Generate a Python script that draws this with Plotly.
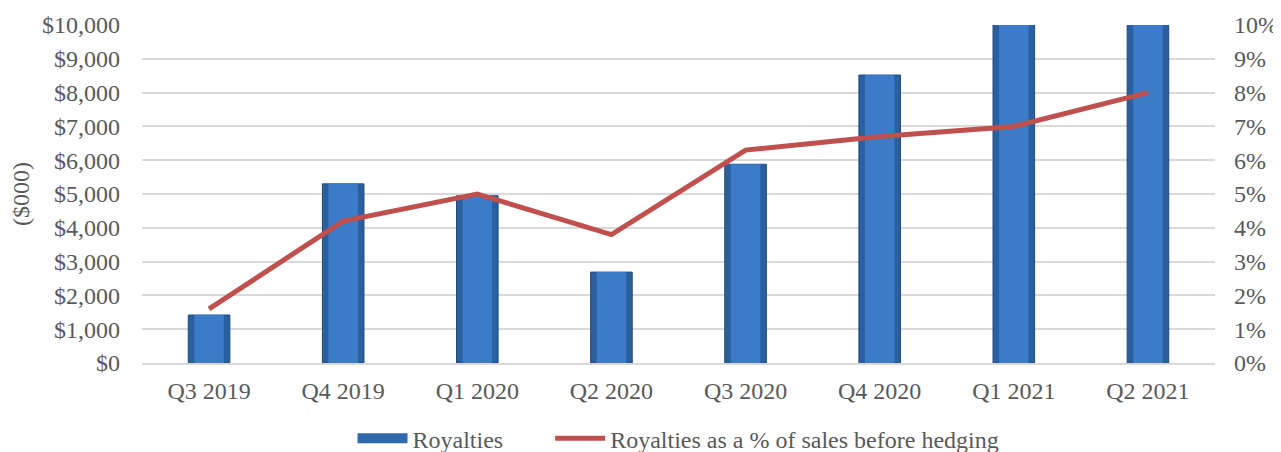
import plotly.graph_objects as go

# -----------------------------
# Data
# -----------------------------
quarters = ["Q3 2019", "Q4 2019", "Q1 2020", "Q2 2020",
            "Q3 2020", "Q4 2020", "Q1 2021", "Q2 2021"]
royalties = [1420, 5300, 4950, 2690, 5880, 8520, 11500, 11500]
royalty_pct = [1.6, 4.2, 5.0, 3.8, 6.3, 6.7, 7.0, 8.0]

left_ticks = [0, 1000, 2000, 3000, 4000, 5000, 6000, 7000, 8000, 9000, 10000]
left_labels = ["$" + format(v, ",") for v in left_ticks]
right_ticks = list(range(0, 11))
right_labels = [f"{v}%" for v in right_ticks]

FONT = "Liberation Serif, Times New Roman, serif"
GREY = "#595959"
SIZE = 24

fig = go.Figure()

# -----------------------------
# Bars: dark outer + lighter inner to fake the bevel
# -----------------------------
fig.add_trace(
    go.Bar(
        x=quarters,
        y=royalties,
        name="Royalties",
        width=0.31,
        marker=dict(color="#2C5F9E", line=dict(color="#1F4A7D", width=1)),
        showlegend=False,
    )
)
fig.add_trace(
    go.Bar(
        x=quarters,
        y=royalties,
        name="Royalties",
        width=0.22,
        marker=dict(color="#3B7BC8", line=dict(width=0)),
        showlegend=False,
        hoverinfo="skip",
    )
)

# legend-only entry so the swatch is a wide rectangle like the original
fig.add_trace(
    go.Scatter(
        x=[None],
        y=[None],
        name="Royalties" + "\u00a0" * 7,
        mode="lines",
        line=dict(color="#2F68AD", width=12),
    )
)

# -----------------------------
# Line on secondary axis
# -----------------------------
fig.add_trace(
    go.Scatter(
        x=quarters,
        y=royalty_pct,
        name="Royalties as a % of sales before hedging",
        mode="lines",
        line=dict(color="#C0504D", width=5),
        yaxis="y2",
    )
)

# page body has an 8px margin, so the figure is 8px smaller
fig.update_layout(
    width=1273,
    height=444,
    barmode="overlay",
    plot_bgcolor="white",
    paper_bgcolor="white",
    margin=dict(l=134, r=66, t=17, b=89, autoexpand=False),
    font=dict(family=FONT, size=SIZE, color=GREY),
    xaxis=dict(
        showgrid=False,
        showline=True,
        linecolor="#D9D9D9",
        linewidth=2,
        ticklabelstandoff=5,
        tickfont=dict(size=SIZE, color=GREY),
    ),
    yaxis=dict(
        range=[0, 10000],
        tickvals=left_ticks,
        ticktext=left_labels,
        showgrid=True,
        gridcolor="#D9D9D9",
        gridwidth=2,
        zeroline=False,
        ticklabelstandoff=21,
        title=dict(text="($000)", standoff=21, font=dict(size=SIZE, color=GREY)),
        tickfont=dict(size=SIZE, color=GREY),
    ),
    yaxis2=dict(
        range=[0, 10],
        tickvals=right_ticks,
        ticktext=right_labels,
        overlaying="y",
        side="right",
        showgrid=False,
        zeroline=False,
        ticklabelstandoff=18,
        tickfont=dict(size=SIZE, color=GREY),
    ),
    legend=dict(
        orientation="h",
        x=0.5,
        xanchor="center",
        yref="container",
        y=0.03,
        yanchor="middle",
        font=dict(size=SIZE, color=GREY),
        itemwidth=50,
        tracegroupgap=0,
    ),
)

fig.write_html("out.html")
